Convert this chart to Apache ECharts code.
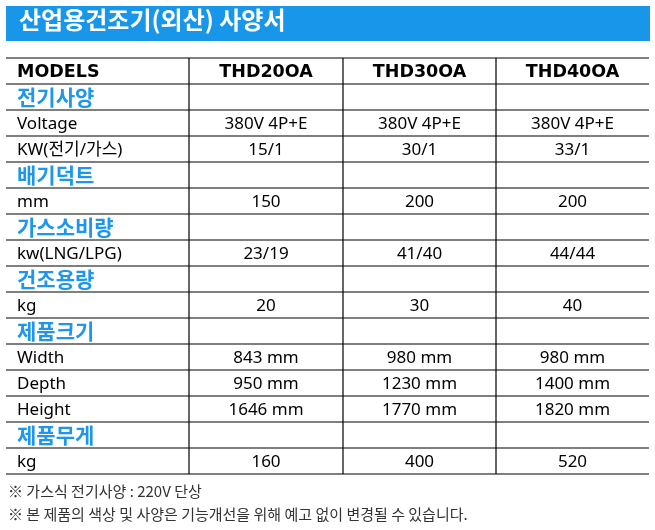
<!DOCTYPE html>
<html>
<head>
<meta charset="utf-8">
<script src="https://cdn.jsdelivr.net/npm/echarts@6/dist/echarts.min.js"></script>
<style>html,body{margin:0;padding:0;background:#fff;}#c{width:655px;height:530px;}</style>
</head>
<body>
<div id="c"></div>
<script>
// ---- data ----
const titleText = '산업용건조기(외산) 사양서';
const rowLabels = ['MODELS','전기사양','Voltage','KW(전기/가스)','배기덕트','mm','가스소비량','kw(LNG/LPG)','건조용량','kg','제품크기','Width','Depth','Height','제품무게','kg'];
const rowKinds  = ['header','section','data','data','section','data','section','data','section','data','section','data','data','data','section','data'];
const thd20 = ['THD20OA','','380V 4P+E','15/1','','150','','23/19','','20','','843 mm','950 mm','1646 mm','','160'];
const thd30 = ['THD30OA','','380V 4P+E','30/1','','200','','41/40','','30','','980 mm','1230 mm','1770 mm','','400'];
const thd40 = ['THD40OA','','380V 4P+E','33/1','','200','','44/44','','40','','980 mm','1400 mm','1820 mm','','520'];
const notes = ['※ 가스식 전기사양 : 220V 단상','※ 본 제품의 색상 및 사양은 기능개선을 위해 예고 없이 변경될 수 있습니다.'];

// ---- layout (not data) ----
const colEdges = [0, 183/643, 337/643, 490/643, 1];
const rowIdx = rowLabels.map((_, i) => i);

const chart = echarts.init(document.getElementById('c'), null, {renderer: 'canvas'});
const sansFont = '"Noto Sans", "Noto Sans CJK KR", sans-serif';
const cjkFont = '"Noto Sans CJK KR", "Noto Sans", sans-serif';
const headFont = '"DejaVu Sans", "Noto Sans", sans-serif';

function renderItem(params, api) {
  const i = api.value(0);
  const kind = rowKinds[i];
  const c = api.coord([0, i]);
  const h = api.size([0, 1])[1];
  const yTop = c[1] - h / 2, yBot = c[1] + h / 2, yMid = c[1];
  const xs = colEdges.map(e => api.coord([e, i])[0]);
  const line = {stroke: '#000', lineWidth: 1.2};
  const children = [];
  if (i === 0) children.push({type: 'line', shape: {x1: xs[0], y1: yTop, x2: xs[4], y2: yTop}, style: line});
  children.push({type: 'line', shape: {x1: xs[0], y1: yBot, x2: xs[4], y2: yBot}, style: line});
  for (let k = 1; k <= 3; k++) children.push({type: 'line', shape: {x1: xs[k], y1: yTop, x2: xs[k], y2: yBot}, style: line});
  let labStyle;
  if (kind === 'header') labStyle = {font: 'bold 17.5px ' + headFont, fill: '#000'};
  else if (kind === 'section') labStyle = {font: 'bold 21px ' + cjkFont, fill: '#1e96ee'};
  else labStyle = {font: '17px ' + sansFont, fill: '#000'};
  children.push({type: 'text', style: Object.assign({text: rowLabels[i], x: xs[0] + 11, y: yMid + (kind === 'section' ? 0 : 1), textAlign: 'left', textVerticalAlign: 'middle'}, labStyle)});
  const vals = [thd20[i], thd30[i], thd40[i]];
  for (let k = 0; k < 3; k++) {
    if (!vals[k]) continue;
    const st = kind === 'header' ? {font: 'bold 17.5px ' + headFont, fill: '#000'} : {font: '17px ' + sansFont, fill: '#000'};
    children.push({type: 'text', style: Object.assign({text: vals[k], x: (xs[k + 1] + xs[k + 2]) / 2, y: yMid + 1, textAlign: 'center', textVerticalAlign: 'middle'}, st)});
  }
  return {type: 'group', children: children};
}

chart.setOption({
  animation: false,
  backgroundColor: '#fff',
  grid: {left: 6, right: 6, top: 58, height: 416},
  xAxis: {type: 'value', min: 0, max: 1, show: false},
  yAxis: {type: 'category', data: rowIdx, inverse: true, show: false},
  graphic: [
    {type: 'rect', left: 6, top: 6, shape: {width: 644, height: 35}, style: {fill: '#1796ea'}},
    {type: 'text', left: 19, top: 8, style: {text: titleText, font: 'bold 24px ' + cjkFont, fill: '#fff'}},
    {type: 'text', left: 8, top: 484, style: {text: notes[0], font: '15px ' + cjkFont, fill: '#333'}},
    {type: 'text', left: 8, top: 507, style: {text: notes[1], font: '15px ' + cjkFont, fill: '#333'}}
  ],
  series: [{
    type: 'custom',
    renderItem: renderItem,
    clip: false,
    encode: {y: 0},
    data: rowIdx.map(i => [i])
  }]
});
</script>
</body>
</html>
